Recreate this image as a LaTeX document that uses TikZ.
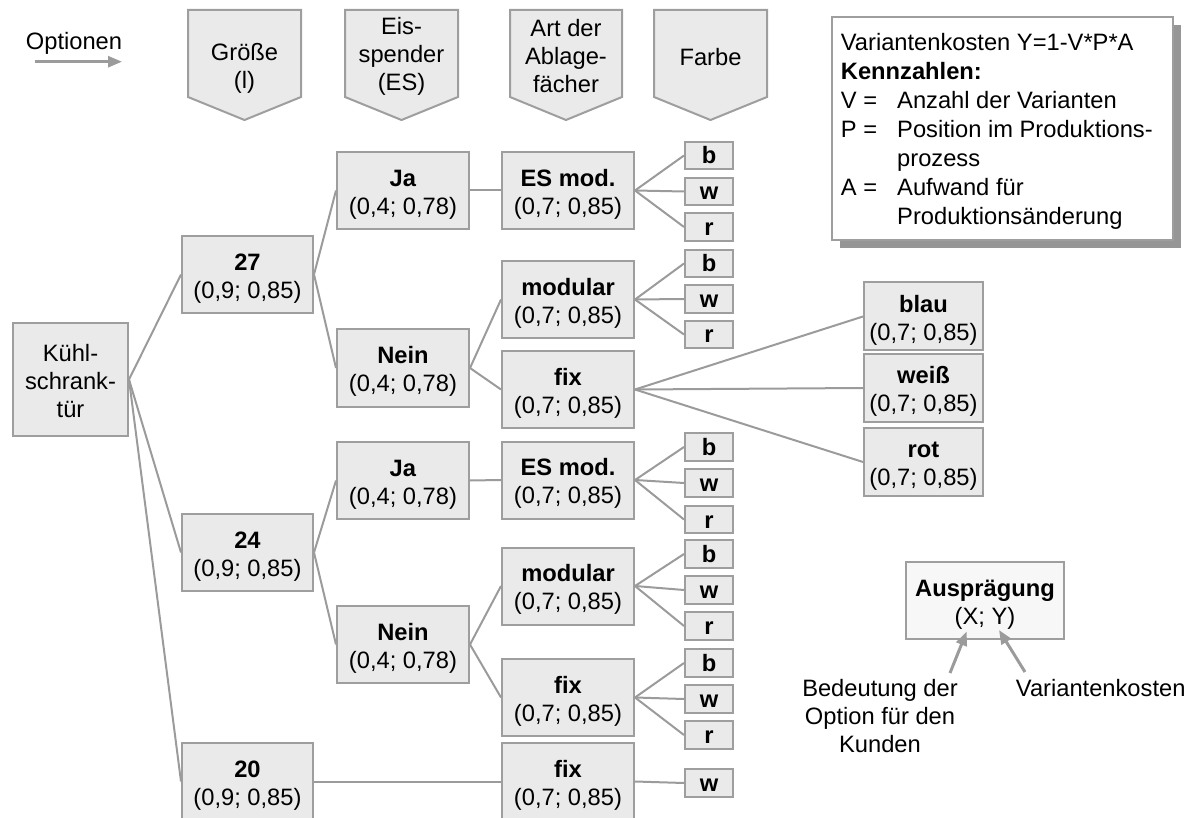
\documentclass[tikz,border=0pt]{standalone}
\usepackage{fontspec}
\setmainfont{Liberation Sans}
\usetikzlibrary{arrows.meta,shadows}
\definecolor{boxfill}{RGB}{234,234,234}
\definecolor{boxline}{RGB}{158,158,158}
\definecolor{linkc}{RGB}{155,155,155}
\definecolor{shadowc}{RGB}{150,150,150}
\definecolor{keyfill}{RGB}{247,247,247}
% bold name over its (X; Y) pair, first line padded so the pair sits a little lower
\newcommand{\optlines}[2]{\rule{0pt}{24pt}\textbf{#1}\\#2}
\begin{document}
\begin{tikzpicture}[x=1pt,y=-1pt,
  every node/.style={font=\fontsize{23.7}{28}\selectfont},
  optbox/.style={draw=boxline,fill=boxfill,line width=2pt,inner sep=0pt,
    align=center,minimum width=132pt,minimum height=77pt},
  sizebox/.style={optbox,minimum width=131pt},
  colourbox/.style={optbox,minimum width=119pt,minimum height=68pt},
  colbox/.style={draw=boxline,fill=boxfill,line width=2pt,inner sep=0pt,
    minimum width=48pt,minimum height=27.5pt,text height=17pt,text depth=0pt,
    font=\fontsize{23.7}{28}\selectfont\bfseries},
  hdr/.style={draw=boxline,fill=boxfill,line width=2pt},
  hdrtext/.style={align=center,inner sep=0pt},
  link/.style={draw=linkc,line width=2pt},
  pointer/.style={draw=linkc,line width=3pt,-{Triangle[length=14pt,width=11pt]}},
]
\useasboundingbox (0,0) rectangle (1197,818);

% column headers (downward pointing tabs)
\foreach \l/\r in {188/301, 345/458, 510/622, 654/767}{
  \path[hdr] (\l,10) -- (\r,10) -- (\r,97) -- ({(\l+\r)/2},120) -- (\l,97) -- cycle;
}
\node[hdrtext] (hsize) at (244.5,68) {Größe\\(l)};
\node[hdrtext] (hes) at (401.5,56) {Eis-\\spender\\(ES)};
\node[hdrtext] (hart) at (566,56) {Art der\\Ablage-\\fächer};
\node[hdrtext] (hfarbe) at (710.5,57) {Farbe};

% direction of the options
\node (opt) at (74,43) {Optionen};
\coordinate (optA) at (35,61.7);
\coordinate (optB) at (122,61.7);
\draw[pointer,line width=2.7pt] (optA) -- (optB);

% root
\node[optbox,minimum width=115pt,minimum height=113pt] (kt) at (70.5,379.5)
  {\rule{0pt}{21pt}Kühl-\\schrank-\\tür};

% size
\node[sizebox] (n27) at (247.5,274.5) {\optlines{27}{(0,9; 0,85)}};
\node[sizebox] (n24) at (247.5,552.5) {\optlines{24}{(0,9; 0,85)}};
\node[sizebox] (n20) at (247.5,781.5) {\optlines{20}{(0,9; 0,85)}};

% ice dispenser
\node[optbox] (ja1)   at (403,190.5) {\optlines{Ja}{(0,4; 0,78)}};
\node[optbox] (nein1) at (403,368)   {\optlines{Nein}{(0,4; 0,78)}};
\node[optbox] (ja2)   at (403,480.5) {\optlines{Ja}{(0,4; 0,78)}};
\node[optbox] (nein2) at (403,644.5) {\optlines{Nein}{(0,4; 0,78)}};

% shelves
\node[optbox] (es1)  at (568,190.5) {\optlines{ES mod.}{(0,7; 0,85)}};
\node[optbox] (mod1) at (568,299.5) {\optlines{modular}{(0,7; 0,85)}};
\node[optbox] (fix1) at (568,389.5) {\optlines{fix}{(0,7; 0,85)}};
\node[optbox] (es2)  at (568,480)   {\optlines{ES mod.}{(0,7; 0,85)}};
\node[optbox] (mod2) at (568,586)   {\optlines{modular}{(0,7; 0,85)}};
\node[optbox] (fix2) at (568,697.5) {\optlines{fix}{(0,7; 0,85)}};
\node[optbox] (fix3) at (568,781.5) {\optlines{fix}{(0,7; 0,85)}};

% colours written out
\node[colourbox] (blau) at (923.5,316.5) {\optlines{blau}{(0,7; 0,85)}};
\node[colourbox] (weiss) at (923.5,388) {\optlines{weiß}{(0,7; 0,85)}};
\node[colourbox] (rot) at (923.5,462) {\optlines{rot}{(0,7; 0,85)}};

% tree connectors
\foreach \a/\b in {kt/n27, kt/n24, kt/n20,
                   n27/ja1, n27/nein1, n24/ja2, n24/nein2, n20/fix3,
                   ja1/es1, nein1/mod1, nein1/fix1,
                   ja2/es2, nein2/mod2, nein2/fix2,
                   fix1/blau, fix1/weiss, fix1/rot}{
  \draw[link] (\a.east) -- (\b.west);
}

% abbreviated colours
\foreach \q/\ya/\yb/\yc in {es1/155.5/191.5/227, mod1/263.5/299/334.5,
                            es2/447/483/519.5, mod2/554/590/626, fix2/663/699/735}{
  \node[colbox] (\q-b) at (709,\ya) {b};
  \node[colbox] (\q-w) at (709,\yb) {w};
  \node[colbox] (\q-r) at (709,\yc) {r};
  \draw[link] (\q.east) -- (\q-b.west);
  \draw[link] (\q.east) -- (\q-w.west);
  \draw[link] (\q.east) -- (\q-r.west);
}
\node[colbox] (fix3-w) at (709,783) {w};
\draw[link] (fix3.east) -- (fix3-w.west);

% key figures
\node[draw=boxline,fill=white,line width=2pt,minimum width=341pt,minimum height=223pt,
      drop shadow={shadow xshift=8pt,shadow yshift=-8pt,fill=shadowc,opacity=1}]
      (legend) at (1002.3,128.5) {};
\node[anchor=north west,align=left,inner sep=0pt,font=\fontsize{23.7}{29}\selectfont]
  (legendtext) at (840.7,33)
  {Variantenkosten Y=1-V*P*A\\
   \textbf{Kennzahlen:}\\
   \makebox[56.3pt][l]{V =}Anzahl der Varianten\\
   \makebox[56.3pt][l]{P =}Position im Produktions-\\
   \hspace*{56.3pt}prozess\\
   \makebox[56.3pt][l]{A =}Aufwand für\\
   \hspace*{56.3pt}Produktionsänderung};

% reading key
\node[draw=boxline,fill=keyfill,line width=2pt,inner sep=0pt,align=center,
      minimum width=158pt,minimum height=77pt] (key) at (985,600.4)
      {\rule{0pt}{25pt}\textbf{Ausprägung}\\(X; Y)};
\node[align=center,inner sep=0pt] (meaning) at (880,716.5)
      {Bedeutung der\\Option für den\\Kunden};
\node[inner sep=0pt] (cost) at (1100.7,688) {Variantenkosten};
\coordinate (pX0) at (950,673);
\coordinate (pX1) at (966.7,631.5);
\coordinate (pY0) at (1025,672);
\coordinate (pY1) at (999,630);
\draw[pointer] (pX0) -- (pX1);
\draw[pointer] (pY0) -- (pY1);
\end{tikzpicture}
\end{document}
